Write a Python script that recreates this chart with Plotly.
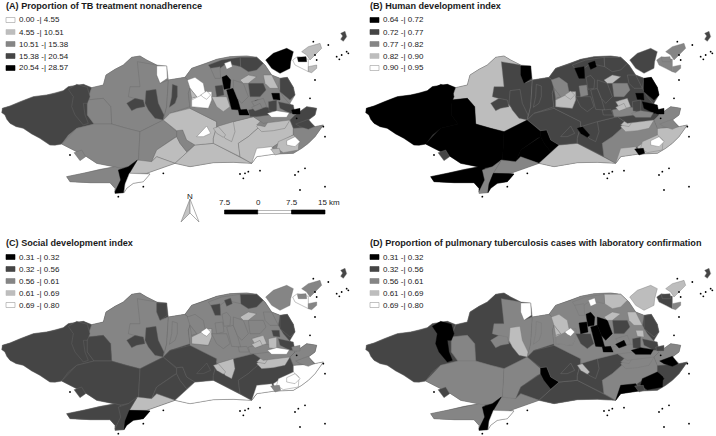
import plotly.graph_objects as go

W, H = 716, 436
tones = ["#ffffff", "#bdbdbd", "#858585", "#454545", "#000000"]

# Tract polygons (map units) drawn back to front; tones: 0 white ... 4 black
land = [(7,325),(30,318),(60,305),(100,290),(140,285),(190,272),(205,260),(250,253),(275,263),(310,255),(318,225),(345,208),(370,195),(395,172),(420,168),(440,180),(470,195),(500,198),(505,240),(555,232),(575,205),(620,190),(650,178),(690,170),(740,168),(770,172),(795,195),(815,225),(840,235),(862,232),(880,262),(885,285),(870,310),(885,345),(920,320),(950,325),(945,345),(925,360),(945,380),(970,375),(945,410),(925,430),(905,445),(880,460),(825,462),(770,470),(755,490),(700,487),(640,488),(570,500),(525,490),(440,520),(450,522),(430,545),(400,550),(380,565),(372,578),(345,580),(345,565),(330,548),(270,548),(210,545),(200,530),(250,520),(300,508),(345,500),(290,490),(260,470),(210,445),(185,432),(150,435),(120,415),(70,385),(30,370),(15,345)]
west_coast = [(7,325),(18,322),(30,318),(45,312),(60,305),(80,298),(100,290),(120,288),(140,285),(165,280),(190,272),(205,260),(228,256),(250,253),(275,263),(262,300),(262,345),(282,372),(230,385),(205,405),(185,432),(165,436),(150,435),(135,425),(120,415),(95,402),(70,385),(48,380),(30,370),(20,358),(15,345),(5,338)]
north = [(275,263),(310,255),(318,225),(345,208),(370,195),(395,172),(420,168),(440,180),(470,195),(470,225),(480,250),(505,240),(500,320),(490,360),(440,385),(420,395),(380,385),(335,372),(332,320),(310,295),(262,300)]
north_e = [(412,185),(470,195),(470,225),(480,250),(505,240),(500,320),(490,360),(470,340),(440,320),(420,300),(385,290),(390,260),(420,260)]
west_inner = [(262,300),(310,295),(332,320),(335,372),(282,372),(262,345)]
d_black = [(205,268),(230,253),(262,262),(270,290),(262,310),(250,310),(255,345),(265,370),(250,375),(225,345),(215,320),(220,290)]
notch = [(470,198),(500,198),(502,235),(480,250),(470,225)]
blob = [(380,310),(405,295),(430,300),(435,320),(410,325),(395,332)]
vert = [(438,272),(468,268),(475,310),(492,345),(490,360),(465,355),(445,330),(435,310)]
realengo = [(505,240),(555,232),(575,250),(565,280),(570,320),(540,330),(510,340),(490,360),(500,320)]
thin = [(517,253),(532,258),(532,290),(525,310),(508,322),(515,290)]
sw_big = [(185,432),(230,385),(282,372),(335,372),(380,385),(420,395),(415,490),(385,500),(355,505),(340,500),(290,490),(260,470),(210,445)]
peninsula = [(200,530),(250,520),(300,508),(345,500),(362,505),(365,540),(345,575),(345,565),(330,548),(270,548),(210,545)]
sw_small = [(222,458),(245,450),(257,470),(240,482)]
se_west = [(420,395),(490,360),(530,395),(530,410),(520,415),(470,450),(455,485),(415,490)]
lw_up = [(470,450),(520,415),(530,410),(540,430),(560,455),(585,435),(525,490),(470,470),(455,485)]
lw_low = [(412,480),(455,485),(470,470),(525,490),(440,520),(388,520)]
patch = [(530,392),(548,390),(560,420),(585,435),(560,455),(540,430),(530,410)]
sliver = [(345,580),(345,575),(362,540),(355,510),(385,500),(412,480),(388,520),(375,552),(370,578)]
coast_w = [(372,578),(375,552),(388,520),(440,520),(450,522),(430,545),(400,550),(380,565)]
barra = [(525,490),(585,435),(640,430),(680,450),(720,470),(755,490),(700,487),(640,488),(570,500)]
jaca = [(490,360),(510,340),(570,325),(620,350),(650,365),(650,380),(640,415),(640,430),(585,435),(560,420),(548,390),(530,392)]
white_a = [(590,410),(620,378),(632,400),(610,410)]
cent_s = [(650,380),(700,365),(760,350),(790,370),(745,410),(715,430),(720,470),(680,450),(640,430),(640,415)]
c_light = [(655,350),(675,345),(700,335),(715,345),(700,365),(705,395),(695,425),(675,415),(650,375)]
d_light = [(640,385),(655,380),(677,405),(670,412),(650,400)]
d_black2 = [(660,352),(677,352),(670,372),(652,375)]
east_s = [(745,410),(790,370),(870,360),(880,385),(880,405),(835,430),(820,440),(770,470),(755,490),(720,470),(715,430)]
east = [(880,385),(945,380),(970,375),(945,410),(925,430),(905,445),(880,460),(825,462),(820,440),(835,430),(880,405)]
oval2 = [(835,425),(880,405),(897,420),(895,450),(850,458),(830,445)]
oval = [(860,422),(885,410),(900,425),(885,440),(860,435)]
beach = [(770,445),(815,440),(825,462),(770,470),(755,490)]
small_b = [(812,447),(838,445),(842,460),(825,465)]
zs_light = [(770,380),(800,350),(875,345),(870,360),(855,385),(820,392),(785,395)]
zs_mid = [(770,375),(800,345),(812,352),(795,380)]
zn_base = [(555,232),(575,205),(620,190),(650,178),(690,170),(740,168),(770,172),(795,195),(815,225),(840,235),(835,265),(850,290),(880,325),(885,345),(870,360),(790,370),(760,350),(700,365),(650,380),(650,365),(620,350),(570,325),(565,280),(575,250)]
ze = [(870,360),(885,345),(920,320),(950,325),(945,345),(925,360),(945,380),(880,385)]
d_b3 = [(887,372),(925,358),(942,380),(925,388),(900,380)]
white_n = [(562,240),(585,232),(610,250),(615,275),(635,275),(635,300),(625,325),(575,320),(575,295),(590,290),(570,265)]
w_low = [(575,300),(625,275),(635,275),(635,300),(625,325),(575,320)]
d_white = [(602,285),(620,273),(632,285),(620,298),(610,292)]
a_l1 = [(570,265),(590,290),(575,295)]
a_l2 = [(635,290),(680,290),(690,320),(670,335),(650,320)]
dark_n = [(720,172),(770,172),(790,190),(770,210),(745,215),(722,200)]
dark_n2 = [(625,195),(665,180),(720,172),(722,200),(700,195),(680,190),(660,205),(632,205)]
white_blob = [(673,190),(692,183),(697,200),(680,208)]
b_b1 = [(632,205),(660,200),(662,235),(645,235)]
black1 = [(666,232),(680,226),(692,240),(690,265),(672,268)]
dark_c = [(645,258),(668,255),(672,285),(650,290)]
black2 = [(680,270),(700,265),(712,295),(722,330),(695,328),(688,300)]
mid3 = [(700,240),(730,250),(745,290),(725,310),(712,295),(700,265)]
black3 = [(715,330),(740,328),(748,345),(718,345)]
dark4 = [(745,250),(790,250),(798,270),(780,290),(750,290)]
light5 = [(720,240),(745,225),(770,230),(745,250),(730,250)]
light6 = [(790,225),(815,225),(835,265),(810,265),(795,250)]
spiral = [(840,235),(862,232),(880,262),(885,285),(870,300),(840,275)]
black4 = [(815,280),(838,280),(840,300),(820,298)]
black5 = [(765,302),(775,300),(776,320),(765,322)]
dark6 = [(745,330),(790,320),(820,325),(810,345),(770,350),(750,350)]
b_light = [(755,305),(790,295),(800,320),(770,330)]
c_light2 = [(805,305),(830,300),(830,335),(807,333)]
dark7 = [(835,305),(880,315),(885,340),(870,340),(840,325)]
black6 = [(875,330),(900,325),(900,342),(878,342)]
c_white = [(802,340),(830,332),(868,338),(860,352),(815,352)]
d_black4 = [(755,322),(780,310),(787,325),(765,333)]
gov = [(797,180),(820,160),(860,145),(880,155),(872,185),(870,205),(840,220),(815,205)]
n1 = [(905,155),(925,140),(960,130),(965,145),(945,165),(930,180),(920,165)]
n2 = [(878,180),(892,170),(925,178),(925,215),(905,205),(885,195)]
n3 = [(892,172),(918,170),(920,185),(895,185)]
n4 = [(925,200),(950,195),(950,205),(935,218),(925,215)]
isl1 = [(1022,100),(1035,94),(1040,110),(1030,124),(1022,118),(1028,108)]

polys = [land, west_coast, north, north_e, west_inner, d_black, notch, blob, vert, realengo, thin,
         sw_big, peninsula, sw_small, se_west, lw_up, lw_low, patch, sliver, coast_w, barra,
         jaca, white_a, cent_s, c_light, d_light, d_black2, east_s, east, oval2, oval,
         beach, small_b, zs_light, zs_mid, zn_base, ze, d_b3, white_n, w_low, d_white,
         a_l1, a_l2, dark_n, dark_n2, white_blob, b_b1, black1, dark_c, black2, mid3,
         black3, dark4, light5, light6, spiral, black4, black5, dark6, b_light, c_light2,
         dark7, black6, c_white, d_black4, gov, n1, n2, n3, n4, isl1]

tone_A = [2, 3,2,2,2,3,0,3,3,2,3, 2,2,2,2,1,1,2,4,0,1, 1,0,1,1,1,2,1,2,1,0, 0,1,1,2,2,3,3,0,0,0, 1,1,3,3,0,2,4,3,4,2, 4,3,1,1,3,4,4,3,2,3, 3,4,0,2,4,1,0,4,1,3]
tone_B = [3, 4,1,3,4,4,4,3,3,3,3, 4,4,3,4,4,2,4,2,4,1, 3,3,3,3,4,3,2,1,1,0, 1,4,1,1,3,2,2,2,1,1, 2,3,3,3,4,4,3,2,3,3, 3,2,1,3,4,4,2,2,1,3, 4,4,2,1,3,2,2,2,2,3]
tone_C = [3, 3,2,2,3,3,3,3,3,2,2, 3,3,3,3,3,1,3,3,4,0, 3,3,3,1,1,1,3,0,0,0, 0,2,1,1,2,2,2,2,1,0, 2,2,3,2,3,3,2,2,2,2, 2,2,1,2,3,3,1,2,1,1, 3,2,0,1,2,2,0,2,2,3]
tone_D = [3, 3,3,2,2,4,0,2,1,2,2, 2,2,3,2,3,2,4,4,0,3, 3,3,3,3,1,4,2,3,4,4, 4,3,2,2,2,2,4,1,2,0, 1,3,1,2,0,2,4,4,4,4, 4,3,1,1,3,1,2,2,2,3, 3,3,4,4,1,1,3,3,2,3]

isle_x = [940,985,945,950,1010,1025,1040,1045,1018,945,970,975,735,745,720,730,780,895,915,885,900,975,355,430,210,930,890,490]
isle_y = [125,135,165,180,170,165,155,160,178,240,380,410,520,515,522,535,512,515,505,525,570,560,590,560,465,295,355,520]

titles = ["(A) Proportion of TB treatment nonadherence", "(B) Human development index",
          "(C) Social development index", "(D) Proportion of pulmonary tuberculosis cases with laboratory confirmation"]
legend_A = ["0.00 -| 4.55", "4.55 -| 10.51", "10.51 -| 15.38", "15.38 -| 20.54", "20.54 -| 28.57"]
legend_B = ["0.64 -| 0.72", "0.72 -| 0.77", "0.77 -| 0.82", "0.82 -| 0.90", "0.90 -| 0.95"]
legend_C = ["0.31 -| 0.32", "0.32 -| 0.56", "0.56 -| 0.61", "0.61 -| 0.69", "0.69 -| 0.80"]
legend_D = ["0.31 -| 0.32", "0.32 -| 0.56", "0.56 -| 0.61", "0.61 -| 0.69", "0.69 -| 0.80"]
scale_labels = ["7.5", "0", "7.5", "15 km"]

FONT = "Liberation Sans"
fig = go.Figure()
panels = [
    ("x", "y", tone_A, [0, 0.5], [0.5, 1], [0, 1074], [654, 0], "#6a6a6a"),
    ("x2", "y2", tone_B, [0.5, 1], [0.5, 1], [-18, 1056], [654, 0], "#777777"),
    ("x3", "y3", tone_C, [0, 0.5], [0, 0.5], [0, 1074], [597, -57], "#6a6a6a"),
    ("x4", "y4", tone_D, [0.5, 1], [0, 0.5], [-18, 1056], [597, -57], "#777777"),
]
layout = {}
for xa, ya, tone, dx, dy, rx, ry, lc in panels:
    for poly, t in zip(polys, tone):
        fig.add_trace(go.Scatter(
            x=[p[0] for p in poly] + [poly[0][0]], y=[p[1] for p in poly] + [poly[0][1]],
            mode="lines", fill="toself", fillcolor=tones[t],
            line=dict(color=lc if t < 4 else "#000000", width=0.4),
            xaxis=xa, yaxis=ya, hoverinfo="skip", showlegend=False))
    fig.add_trace(go.Scatter(x=isle_x, y=isle_y, mode="markers",
                             marker=dict(color="#000000", size=1.8, line=dict(width=0)),
                             xaxis=xa, yaxis=ya, hoverinfo="skip", showlegend=False))
    xk = "xaxis" + xa[1:]
    yk = "yaxis" + ya[1:]
    layout[xk] = dict(domain=dx, range=rx, visible=False, anchor=ya, fixedrange=True)
    layout[yk] = dict(domain=dy, range=ry, visible=False, anchor=xa, fixedrange=True)

def px(x): return x / W
def py(y): return 1 - y / H

annotations, shapes = [], []
def text(x, y, s, size=8, bold=False, anchor="left"):
    annotations.append(dict(x=px(x), y=py(y), xref="paper", yref="paper", text=f"<b>{s}</b>" if bold else s,
                            showarrow=False, xanchor=anchor, yanchor="middle", borderpad=0, borderwidth=0,
                            font=dict(family=FONT, size=size, color="#1a1a1a")))
def rect(x0, y0, x1, y1, fill, line=None):
    shapes.append(dict(type="rect", xref="paper", yref="paper", x0=px(x0), x1=px(x1), y0=py(y0), y1=py(y1),
                       fillcolor=fill, line=dict(color=line or fill, width=0.6)))

blocks = [(6, 6, titles[0], legend_A, [0,1,2,3,4]),
          (12, 6, titles[1], legend_B, [4,3,2,1,0]),
          (6, 243, titles[2], legend_C, [4,3,2,1,0]),
          (12, 243, titles[3], legend_D, [4,3,2,1,0])]
for i, (xo, yt, title, leg, order) in enumerate(blocks):
    x0 = xo + (358 if i % 2 else 0)
    text(x0, yt, title, size=9.1, bold=True)
    y0 = yt + 14
    for k, (lab, t) in enumerate(zip(leg, order)):
        y = y0 + k * 12
        rect(x0, y - 2.5, x0 + 9, y + 2.5, tones[t], "#9a9a9a" if t == 0 else None)
        text(x0 + 13, y, lab, size=8)

# scale bar
rect(224.5, 210, 258, 214, "#000000")
rect(258, 210.5, 291.5, 213.5, "#ffffff", "#888888")
rect(291.5, 210, 325, 214, "#000000")
for x, lab in zip([225, 258, 292, 329], scale_labels):
    text(x, 203, lab, size=8, anchor="center")

# north arrow
def path(pts):
    return "M " + " L ".join(f"{px(x)},{py(y)}" for x, y in pts) + " Z"
shapes.append(dict(type="path", xref="paper", yref="paper", path=path([(190,199),(181,222),(190,213)]),
                   fillcolor="#c4c4c4", line=dict(color="#8a8a8a", width=0.7)))
shapes.append(dict(type="path", xref="paper", yref="paper", path=path([(190,199),(199,222),(190,213)]),
                   fillcolor="#ffffff", line=dict(color="#8a8a8a", width=0.7)))
text(190, 196, "N", size=8, anchor="center")

fig.update_layout(width=W, height=H, margin=dict(l=0, r=0, t=0, b=0), paper_bgcolor="white",
                  plot_bgcolor="white", showlegend=False, annotations=annotations, shapes=shapes, **layout)
fig.write_html("out.html", config=dict(displayModeBar=False),
               post_script="document.body.style.margin='0';document.body.style.overflow='hidden';")
